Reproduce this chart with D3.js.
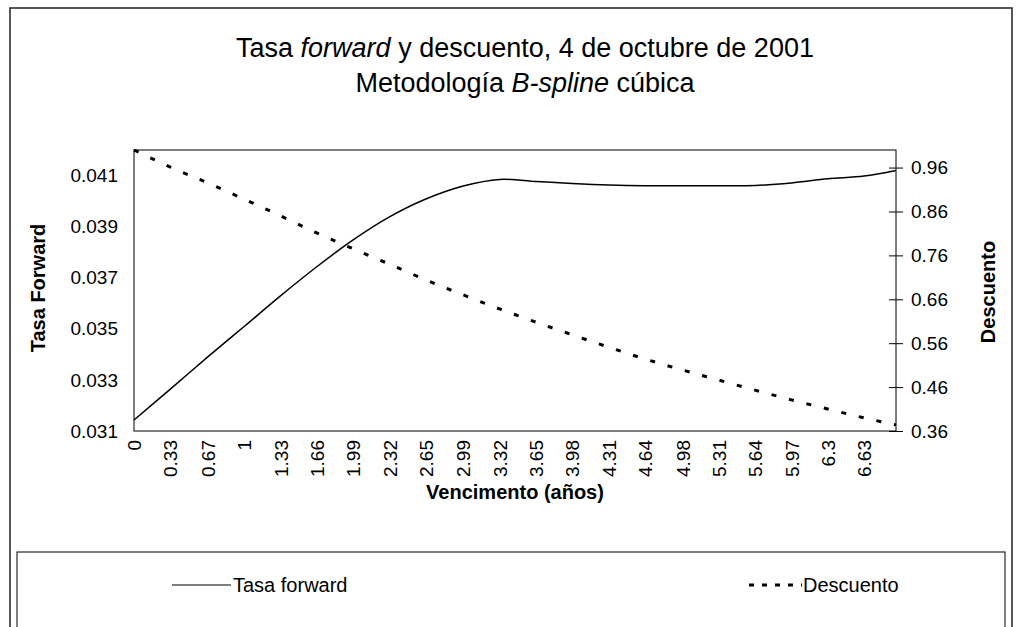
<!DOCTYPE html>
<html>
<head>
<meta charset="utf-8">
<script src="https://cdn.jsdelivr.net/npm/d3@7"></script>
<style>
  body { margin: 0; background: #fff; }
  svg { display: block; font-family: "Liberation Sans", Arial, sans-serif; }
</style>
</head>
<body>
<div id="chart"></div>
<script>
// x labels of the category axis (years)
var xLabels = ["0", "0.33", "0.67", "1", "1.33", "1.66", "1.99", "2.32", "2.65", "2.99",
    "3.32", "3.65", "3.98", "4.31", "4.64", "4.98", "5.31", "5.64", "5.97", "6.3", "6.63"];

// maturities (years), last one is the right edge of the plot
var maturities = [0, 0.33, 0.67, 1, 1.33, 1.66, 1.99, 2.32, 2.65, 2.99, 3.32, 3.65,
    3.98, 4.31, 4.64, 4.98, 5.31, 5.64, 5.97, 6.3, 6.63, 6.92];

var forwardRate = [0.03143, 0.03264, 0.03390, 0.03509, 0.03629, 0.03743, 0.03848, 0.03938,
    0.04008, 0.04059, 0.04085, 0.04077, 0.04069, 0.04063, 0.04060, 0.04060, 0.04060,
    0.04061, 0.04071, 0.04087, 0.04098, 0.04120];

var discount = [1.000, 0.961, 0.925, 0.888, 0.850, 0.811, 0.775, 0.740, 0.704, 0.670,
    0.638, 0.608, 0.579, 0.551, 0.524, 0.499, 0.476, 0.453, 0.431, 0.410, 0.390, 0.374];

var leftTicks = [0.031, 0.033, 0.035, 0.037, 0.039, 0.041];
var rightTicks = [0.36, 0.46, 0.56, 0.66, 0.76, 0.86, 0.96];

var W = 1019, H = 627;
var plot = {left: 134, right: 896, top: 150, bottom: 431};

var svg = d3.select("#chart").append("svg")
    .attr("width", W)
    .attr("height", H);

// outer chart border
svg.append("rect")
    .attr("x", 10).attr("y", 8)
    .attr("width", 1002).attr("height", 640)
    .attr("fill", "none")
    .attr("stroke", "#222")
    .attr("stroke-width", 1.5);

// titles
var title = svg.append("text")
    .attr("text-anchor", "middle")
    .attr("font-size", 27)
    .attr("fill", "#000");
var t1 = title.append("tspan").attr("x", 525).attr("y", 57);
t1.append("tspan").text("Tasa ");
t1.append("tspan").attr("font-style", "italic").text("forward");
t1.append("tspan").text(" y descuento, 4 de octubre de 2001");
var t2 = title.append("tspan").attr("x", 525).attr("y", 92);
t2.append("tspan").text("Metodología ");
t2.append("tspan").attr("font-style", "italic").text("B-spline");
t2.append("tspan").text(" cúbica");

var x = d3.scaleLinear()
    .domain([0, 6.92])
    .range([plot.left, plot.right]);

var yLeft = d3.scaleLinear()
    .domain([0.031, 0.042])
    .range([plot.bottom, plot.top]);

var yRight = d3.scaleLinear()
    .domain([0.36, 1.0])
    .range([plot.bottom, plot.top]);

// plot area frame
svg.append("rect")
    .attr("x", plot.left).attr("y", plot.top)
    .attr("width", plot.right - plot.left)
    .attr("height", plot.bottom - plot.top)
    .attr("fill", "none")
    .attr("stroke", "#000")
    .attr("stroke-width", 1);

//********** AXES ************
var tickVals = xLabels.map(function(d) { return +d; });
var xAxis = d3.axisBottom(x)
    .tickValues(tickVals)
    .tickSize(0)
    .tickFormat(function(d, i) { return xLabels[i]; });

var gx = svg.append("g")
    .attr("transform", "translate(0," + plot.bottom + ")")
    .call(xAxis);
gx.select(".domain").remove();
gx.selectAll("text")
    .attr("font-size", 19)
    .attr("font-family", "Liberation Sans, Arial, sans-serif")
    .attr("fill", "#000")
    .attr("text-anchor", "end")
    .attr("transform", "rotate(-90)")
    .attr("x", -9)
    .attr("y", 0)
    .attr("dy", "0.35em");

var gl = svg.append("g")
    .attr("transform", "translate(" + plot.left + ",0)")
    .call(d3.axisLeft(yLeft).tickValues(leftTicks).tickSize(0).tickPadding(16)
        .tickFormat(d3.format(".3f")));
gl.select(".domain").remove();
gl.selectAll("text")
    .attr("font-size", 19)
    .attr("font-family", "Liberation Sans, Arial, sans-serif")
    .attr("fill", "#000");

var gr = svg.append("g")
    .attr("transform", "translate(" + plot.right + ",0)")
    .call(d3.axisRight(yRight).tickValues(rightTicks).tickSizeInner(7).tickSizeOuter(0)
        .tickPadding(8).tickFormat(d3.format(".2f")));
gr.select(".domain").remove();
gr.selectAll(".tick line")
    .attr("x1", -7)
    .attr("stroke", "#000");
gr.selectAll("text")
    .attr("font-size", 19)
    .attr("font-family", "Liberation Sans, Arial, sans-serif")
    .attr("fill", "#000");

// axis titles
svg.append("text")
    .attr("transform", "translate(45,288) rotate(-90)")
    .attr("text-anchor", "middle")
    .attr("font-size", 20)
    .attr("font-weight", "bold")
    .text("Tasa Forward");

svg.append("text")
    .attr("transform", "translate(995,292) rotate(-90)")
    .attr("text-anchor", "middle")
    .attr("font-size", 20)
    .attr("font-weight", "bold")
    .text("Descuento");

svg.append("text")
    .attr("x", 515).attr("y", 499)
    .attr("text-anchor", "middle")
    .attr("font-size", 20)
    .attr("font-weight", "bold")
    .text("Vencimento (años)");

// series
var lineFwd = d3.line()
    .curve(d3.curveCatmullRom)
    .x(function(d, i) { return x(maturities[i]); })
    .y(function(d) { return yLeft(d); });

var lineDisc = d3.line()
    .curve(d3.curveMonotoneX)
    .x(function(d, i) { return x(maturities[i]); })
    .y(function(d) { return yRight(d); });

svg.append("path")
    .datum(forwardRate)
    .attr("d", lineFwd)
    .attr("fill", "none")
    .attr("stroke", "#000")
    .attr("stroke-width", 1.5);

svg.append("path")
    .datum(discount)
    .attr("d", lineDisc)
    .attr("fill", "none")
    .attr("stroke", "#000")
    .attr("stroke-width", 3)
    .attr("stroke-dasharray", "5,13");

// legend
svg.append("rect")
    .attr("x", 17).attr("y", 552)
    .attr("width", 988).attr("height", 100)
    .attr("fill", "none")
    .attr("stroke", "#000")
    .attr("stroke-width", 1);

var legend = svg.append("g");
legend.append("line")
    .attr("x1", 172).attr("x2", 231)
    .attr("y1", 585).attr("y2", 585)
    .attr("stroke", "#555")
    .attr("stroke-width", 1.5);
legend.append("text")
    .attr("x", 233).attr("y", 592)
    .attr("font-size", 20)
    .text("Tasa forward");
legend.append("line")
    .attr("x1", 749).attr("x2", 802)
    .attr("y1", 585).attr("y2", 585)
    .attr("stroke", "#000")
    .attr("stroke-width", 3)
    .attr("stroke-dasharray", "5,8");
legend.append("text")
    .attr("x", 803).attr("y", 592)
    .attr("font-size", 20)
    .text("Descuento");
</script>
</body>
</html>
